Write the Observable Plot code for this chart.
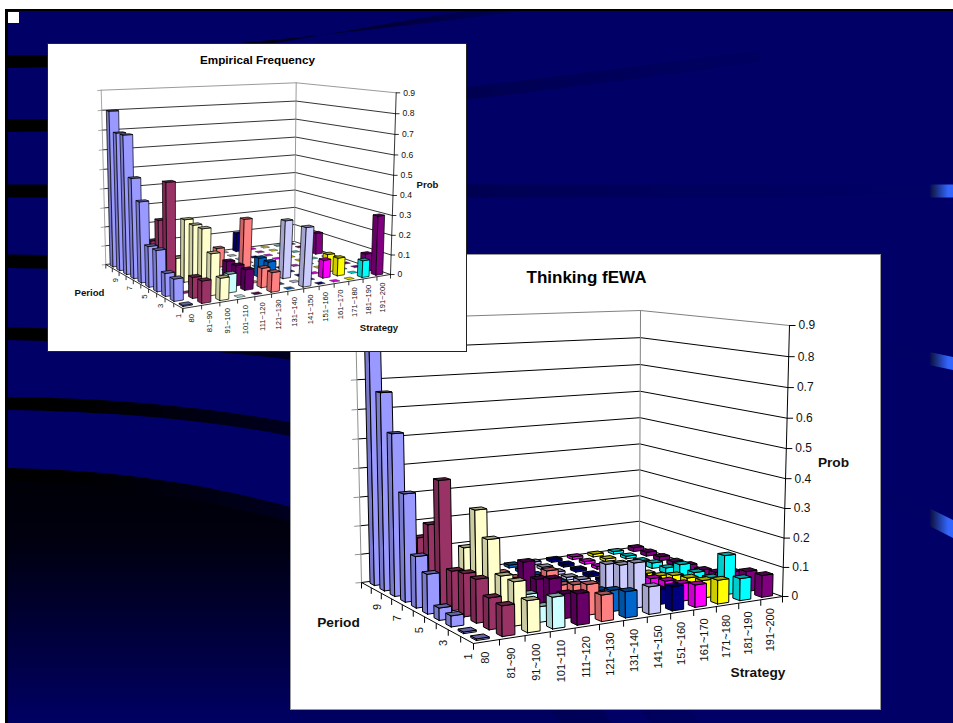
<!DOCTYPE html>
<html>
<head>
<meta charset="utf-8">
<script src="https://cdn.jsdelivr.net/npm/d3@7"></script>
<script src="https://cdn.jsdelivr.net/npm/@observablehq/plot@0.6"></script>
<style>
  html, body { margin: 0; padding: 0; background: #fff; overflow: hidden; }
  #slide { position: relative; width: 953px; height: 723px; overflow: hidden; font-family: "Liberation Sans", Arial, sans-serif; }
  #backdrop { position: absolute; left: 0; top: 0; }
  .panel { position: absolute; background: #fff; }
  .panel svg { display: block; background: #fff; }
  #panelB { left: 291px; top: 255px; box-shadow: 0 0 0 1px #9a9a9a; }
  #panelA { left: 48px; top: 44px; box-shadow: 0 0 0 1px #222; }
</style>
</head>
<body>
<div id="slide">
  <svg id="backdrop" width="953" height="723" viewBox="0 0 953 723">
    <defs>
      <linearGradient id="sweep" gradientUnits="userSpaceOnUse" x1="0" y1="0" x2="953" y2="0">
        <stop offset="0" stop-color="#000"/>
        <stop offset="0.1" stop-color="#000004"/>
        <stop offset="0.3" stop-color="#00001f"/>
        <stop offset="0.49" stop-color="#000052"/>
        <stop offset="0.75" stop-color="#000060"/>
        <stop offset="0.975" stop-color="#000066"/>
        <stop offset="0.978" stop-color="#10184f"/>
        <stop offset="0.995" stop-color="#3366ff"/>
        <stop offset="1" stop-color="#3366ff"/>
      </linearGradient>
      <linearGradient id="ground" x1="0" y1="0" x2="0" y2="1">
        <stop offset="0" stop-color="#000008"/>
        <stop offset="0.25" stop-color="#000010"/>
        <stop offset="1" stop-color="#000064"/>
      </linearGradient>
    </defs>
    <rect x="5" y="9" width="948" height="714" fill="#000"/>
    <rect x="8" y="11" width="945" height="712" fill="#000066"/>
    <path d="M8,55 L60,55 C200,50 380,30 520,11 L470,11 C350,26 200,66 8,68 Z" fill="url(#sweep)"/>
    <path d="M8,119 L60,119 C250,115 500,85 760,50 L760,62 C500,97 250,130 8,132 Z" fill="url(#sweep)"/>
    <path d="M8,184.5 H953 V197.5 H8 Z" fill="url(#sweep)"/>
    <path d="M8,254.5 C300,258 650,290 953,357 V370 C650,305 300,272 8,268 Z" fill="url(#sweep)"/>
    <path d="M8,327.5 C300,332 700,390 953,520 V538 C700,405 300,345 8,340 Z" fill="url(#sweep)"/>
    <path d="M8,397 C120,398 210,408 295,423 C420,450 560,520 700,723 H650 C520,540 420,470 295,437 C210,420 120,412 8,410 Z" fill="url(#sweep)"/>
    <path d="M8,468 C120,470 210,485 295,508 C430,545 540,620 612,723 H8 Z" fill="url(#sweep)"/>
    <path d="M8,481 C120,485 210,500 295,523 C420,560 500,640 560,723 H8 Z" fill="url(#ground)"/>
    <rect x="8" y="12" width="11" height="11" fill="#fff"/>
  </svg>
  <div class="panel" id="panelB"></div>
  <div class="panel" id="panelA"></div>
</div>

<script>
// Categories shared by both charts
const strategies = ["80", "81~90", "91~100", "101~110", "111~120", "121~130", "131~140",
  "141~150", "151~160", "161~170", "171~180", "181~190", "191~200"];
const periods = [1, 2, 3, 4, 5, 6, 7, 8, 9, 10];
const periodLabels = [1, 3, 5, 7, 9];
const probTicks = [0, 0.1, 0.2, 0.3, 0.4, 0.5, 0.6, 0.7, 0.8, 0.9];
const strategyColors = ["#9999ff", "#993366", "#ffffcc", "#ccffff", "#660066", "#ff8080", "#0066cc",
  "#ccccff", "#000080", "#ff00ff", "#ffff00", "#00ffff", "#800080"];

// Probability by strategy (outer) and period 1..10 (inner)
const empiricalProb = [
  [0.005, 0.105, 0.11, 0.2, 0.2, 0.4, 0.5, 0.7, 0.7, 0.8],
  [0.105, 0.1, 0, 0, 0.5, 0.3, 0.18, 0, 0, 0],
  [0.105, 0.2, 0.3, 0.3, 0.31, 0.1, 0, 0, 0, 0],
  [0, 0.09, 0, 0, 0, 0, 0, 0, 0, 0],
  [0, 0.1, 0.1, 0.1, 0, 0, 0, 0, 0, 0],
  [0.095, 0.095, 0, 0.3, 0, 0, 0.1, 0, 0, 0],
  [0, 0, 0.095, 0.095, 0, 0, 0, 0, 0, 0],
  [0.29, 0, 0.29, 0, 0, 0, 0, 0, 0, 0],
  [0, 0, 0, 0, 0, 0, 0, 0, 0, 0.1],
  [0, 0.09, 0, 0, 0, 0, 0, 0, 0, 0],
  [0, 0.09, 0.09, 0, 0, 0, 0, 0, 0, 0],
  [0.085, 0, 0, 0, 0, 0, 0, 0, 0, 0],
  [0.3, 0.09, 0, 0, 0, 0, 0.115, 0.12, 0, 0]
];
const thinkingProb = [
  [0.005, 0.005, 0.035, 0.04, 0.13, 0.17, 0.36, 0.545, 0.67, 0.88],
  [0.095, 0.1, 0.14, 0.14, 0.13, 0.41, 0.25, 0.19, 0.03, 0.01],
  [0.1, 0.14, 0.14, 0.24, 0.32, 0.18, 0.03, 0.02, 0.01, 0.01],
  [0.1, 0.05, 0.07, 0.03, 0.02, 0.01, 0.01, 0.01, 0.01, 0.01],
  [0.1, 0.08, 0.11, 0.09, 0.13, 0.03, 0.02, 0.01, 0.01, 0.01],
  [0.085, 0.1, 0.08, 0.06, 0.09, 0.02, 0.01, 0.01, 0.01, 0.01],
  [0.085, 0.07, 0.05, 0.04, 0.03, 0.02, 0.02, 0.01, 0.01, 0.01],
  [0.09, 0.15, 0.125, 0.11, 0.02, 0.02, 0.01, 0.01, 0.01, 0.01],
  [0.08, 0.05, 0.03, 0.02, 0.01, 0.01, 0.01, 0.01, 0.01, 0.01],
  [0.075, 0.06, 0.05, 0.04, 0.03, 0.02, 0.01, 0.01, 0.01, 0.01],
  [0.08, 0.06, 0.05, 0.04, 0.02, 0.01, 0.01, 0.01, 0.01, 0.01],
  [0.075, 0.135, 0.04, 0.04, 0.05, 0.02, 0.02, 0.01, 0.01, 0.01],
  [0.075, 0.07, 0.05, 0.03, 0.02, 0.02, 0.015, 0.015, 0.015, 0.015]
];

// Homography from the unit square onto a quad listed as front, right, back, left
function quadMap([[x0, y0], [x1, y1], [x2, y2], [x3, y3]]) {
  const dx1 = x1 - x2, dx2 = x3 - x2, sx = x0 - x1 + x2 - x3;
  const dy1 = y1 - y2, dy2 = y3 - y2, sy = y0 - y1 + y2 - y3;
  const den = dx1 * dy2 - dx2 * dy1;
  const g = (sx * dy2 - dx2 * sy) / den, h = (dx1 * sy - sx * dy1) / den;
  const a = x1 - x0 + g * x1, b = x3 - x0 + h * x3, d = y1 - y0 + g * y1, e = y3 - y0 + h * y3;
  return (u, v) => {
    const w = g * u + h * v + 1;
    return [(a * u + b * v + x0) / w, (d * u + e * v + y0) / w];
  };
}

// Builds the perspective used by a chart: strategy index, period index and probability to plot position
function perspective(floor, roof) {
  const bottom = quadMap(floor), top = quadMap(roof), r = 1.04;
  return (u, v, z) => {
    const s = z / 0.9, t = s / (s + (1 - s) * r);
    const [x0, y0] = bottom(u, v), [x1, y1] = top(u, v);
    return [x0 + (x1 - x0) * t, y0 + (y1 - y0) * t];
  };
}

function bar3d({values, title, floor, roof, width, height, style}) {
  const project = perspective(floor, roof);
  const nU = strategies.length, nV = periods.length;
  const shade = (c, k) => { const q = d3.rgb(c); return d3.rgb(q.r * k, q.g * k, q.b * k).formatHex(); };

  // Walls, floor edges
  const wall = [], addLine = (id, stroke, pts) => pts.forEach(p => {
    const [x, y] = project(...p); wall.push({id, stroke, x, y});
  });
  probTicks.forEach(z => addLine("grid" + z, z === 0.9 ? "#808080" : "#000", [[0, 1, z], [1, 1, z], [1, 0, z]]));
  addLine("wallLeft", "#909090", [[0, 1, 0], [0, 1, 0.9]]);
  addLine("wallBack", "#808080", [[1, 1, 0], [1, 1, 0.9]]);
  addLine("axisProb", "#000", [[1, 0, 0], [1, 0, 0.9]]);
  addLine("axisFront", "#000", [[0, 1, 0], [0, 0, 0], [1, 0, 0]]);

  // Bars are listed back to front so nearer ones paint over farther ones
  const faces = [];
  for (let j = nV - 1; j >= 0; --j) for (let i = nU - 1; i >= 0; --i) {
    const z = values[i][j], color = strategyColors[i];
    const half = z > 0 ? 0.25 : 0.22;
    const u0 = (i + 0.5 + style.shift - half) / nU, u1 = (i + 0.5 + style.shift + half) / nU;
    const v0 = (j + 0.5 - half * 0.88) / nV, v1 = (j + 0.5 + half * 0.88) / nV;
    const addFace = (name, fill, edge, edgeWidth, pts) => {
      const closed = [...pts, pts[0]];
      closed.forEach(p => { const [x, y] = project(...p); faces.push({id: `${i}-${j}-${name}`, fill, edge, edgeWidth, x, y}); });
    };
    if (z > 0) {
      addFace("side", shade(color, 0.8), "#000", style.edge, [[u0, v0, 0], [u0, v1, 0], [u0, v1, z], [u0, v0, z]]);
      addFace("front", color, "#000", style.edge, [[u0, v0, 0], [u1, v0, 0], [u1, v0, z], [u0, v0, z]]);
      addFace("top", shade(color, 0.65), "#000", style.edge, [[u0, v0, z], [u1, v0, z], [u1, v1, z], [u0, v1, z]]);
    } else {
      // An empty cell is only a flat diamond on the floor
      addFace("top", shade(color, 0.85), "#222", 0.5, [[u0, v0, 0], [u1, v0, 0], [u1, v1, 0], [u0, v1, 0]]);
    }
  }

  const at = (u, v, z, dx = 0, dy = 0) => { const [x, y] = project(u, v, z); return [x + dx, y + dy]; };
  const strategyTicks = d3.range(nU + 1).map(i => i / nU);
  const periodTicks = d3.range(nV + 1).map(j => j / nV);
  const strategyRows = strategies.map((s, i) => ({s, p: at((i + 0.5) / nU, 0, 0, style.sdx, style.sdy)}));
  const periodRows = periodLabels.map(p => ({p, q: at(0, (p - 0.5) / nV, 0, style.pdx, style.pdy)}));

  return Plot.plot({
    width, height,
    margin: 0,
    x: {type: "linear", domain: [0, width], range: [0, width], axis: null},
    y: {type: "linear", domain: [0, height], range: [0, height], axis: null},
    color: {type: "identity"},
    style: {fontFamily: '"Liberation Sans", Arial, sans-serif', background: "#fff", overflow: "hidden"},
    marks: [
      Plot.line(wall, {x: "x", y: "y", z: "id", stroke: "stroke", strokeWidth: style.grid, curve: "linear"}),
      // Tick marks on the left wall, the value axis and the two floor axes
      Plot.link(probTicks, {
        x1: z => at(0, 1, z)[0], y1: z => at(0, 1, z)[1],
        x2: z => at(0, 1, z, -style.tick, 0.5)[0], y2: z => at(0, 1, z, -style.tick, 0.5)[1],
        stroke: "#909090", strokeWidth: style.grid
      }),
      Plot.link(probTicks, {
        x1: z => at(1, 0, z)[0], y1: z => at(1, 0, z)[1],
        x2: z => at(1, 0, z, style.tick, 0)[0], y2: z => at(1, 0, z, style.tick, 0)[1],
        stroke: "#000", strokeWidth: style.grid
      }),
      Plot.link(strategyTicks, {
        x1: u => at(u, 0, 0)[0], y1: u => at(u, 0, 0)[1],
        x2: u => at(u, 0, 0)[0], y2: u => at(u, 0, 0, 0, style.tick)[1],
        stroke: "#000", strokeWidth: style.grid
      }),
      Plot.link(periodTicks, {
        x1: v => at(0, v, 0)[0], y1: v => at(0, v, 0)[1],
        x2: v => at(0, v, 0)[0], y2: v => at(0, v, 0, 0, style.tick)[1],
        stroke: "#000", strokeWidth: style.grid
      }),
      Plot.line(faces, {x: "x", y: "y", z: "id", fill: "fill", stroke: "edge", strokeWidth: "edgeWidth", strokeLinejoin: "round", curve: "linear"}),
      Plot.text(probTicks, {
        x: z => at(1, 0, z, style.tick + 3, 0)[0], y: z => at(1, 0, z)[1],
        text: z => String(z), textAnchor: "start", fontSize: style.probFont, fill: "#111"
      }),
      Plot.text(strategyRows, {
        x: d => d.p[0], y: d => d.p[1], text: "s", rotate: -90, textAnchor: "end",
        fontSize: style.catFont, fill: "#111"
      }),
      Plot.text(periodRows, {
        x: d => d.q[0], y: d => d.q[1], text: d => String(d.p), rotate: -90,
        fontSize: style.catFont, fill: "#111"
      }),
      Plot.text([title], {x: style.titleAt[0], y: style.titleAt[1], text: d => d, fontWeight: "bold", fontSize: style.titleFont, fill: "#000"}),
      Plot.text(["Period"], {x: style.periodAt[0], y: style.periodAt[1], text: d => d, fontWeight: "bold", fontSize: style.labelFont, fill: "#111"}),
      Plot.text(["Strategy"], {x: style.strategyAt[0], y: style.strategyAt[1], text: d => d, fontWeight: "bold", fontSize: style.labelFont, fill: "#111"}),
      Plot.text(["Prob"], {x: style.probAt[0], y: style.probAt[1], text: d => d, fontWeight: "bold", fontSize: style.labelFont, fill: "#111"})
    ]
  });
}

document.getElementById("panelB").append(bar3d({
  values: thinkingProb, title: "Thinking fEWA", width: 589, height: 454,
  floor: [[182, 388], [491, 341], [348, 291], [70, 327]],
  roof: [[179, 81], [498, 70], [349, 55], [64, 64]],
  style: {grid: 1, edge: 1, tick: 6, shift: 0, sdx: -1, sdy: 10, pdx: 1, pdy: 16.5, probFont: 12, catFont: 11,
    titleFont: 17, labelFont: 13.7, titleAt: [295, 22], periodAt: [47, 367], strategyAt: [466.5, 416.7], probAt: [542, 207.6]}
}));

document.getElementById("panelA").append(bar3d({
  values: empiricalProb, title: "Empirical Frequency", width: 418, height: 307,
  floor: [[134.3, 264], [342, 230], [246, 197], [57.3, 220]],
  roof: [[132, 62], [347.7, 48.3], [247.7, 38.3], [52.7, 45.7]],
  style: {grid: 0.8, edge: 0.7, tick: 4, shift: -0.1, sdx: -1, sdy: 7, pdx: 0, pdy: 10, probFont: 8.6, catFont: 7.6,
    titleFont: 11.7, labelFont: 9.6, titleAt: [209, 16], periodAt: [41, 248], strategyAt: [330.5, 283], probAt: [379, 140.7]}
}));
</script>
</body>
</html>
